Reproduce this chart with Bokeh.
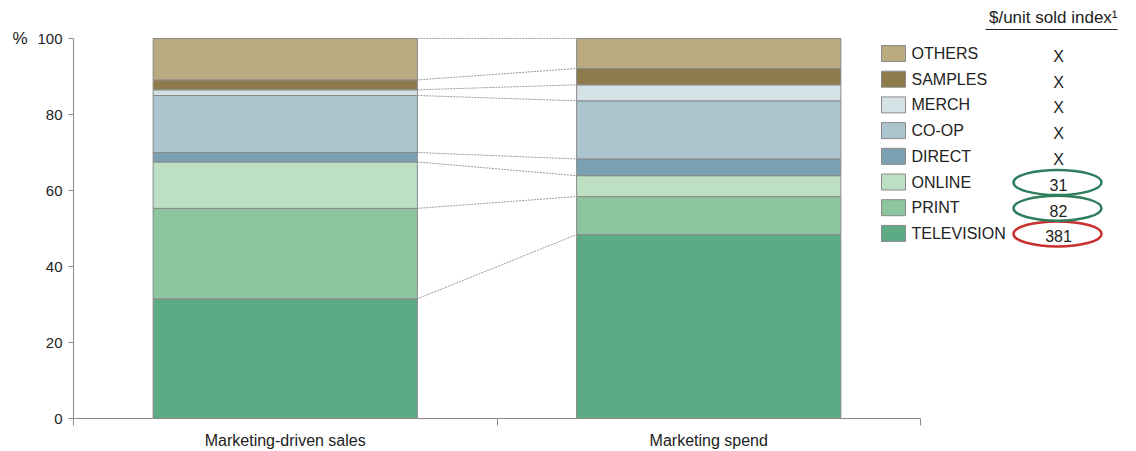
from bokeh.plotting import figure
from bokeh.models import Range1d, FixedTicker, ColumnDataSource, LinearAxis
from bokeh.core.properties import value
from bokeh.embed import file_html
from bokeh.resources import INLINE

# ---------------- data ----------------
bars = ["Marketing-driven sales", "Marketing spend"]
channels = ["TELEVISION", "PRINT", "ONLINE", "DIRECT", "CO-OP", "MERCH", "SAMPLES", "OTHERS"]
sales_share = [31.5, 23.8, 12.2, 2.5, 15.0, 1.5, 2.6, 10.9]
spend_share = [48.4, 10.0, 5.5, 4.4, 15.3, 4.2, 4.3, 7.9]
index_values = ["381", "82", "31", "X", "X", "X", "X", "X"]
circled = {"381": "#c8302e", "82": "#2e7d5c", "31": "#2e7d5c"}
colors = ["#5cab84", "#8cc59e", "#bde0c5", "#7aa0b1", "#abc4ce", "#d5e2e5", "#8e7b4b", "#b9aa80"]
y_ticks = [0, 20, 40, 60, 80, 100]
header = "$/unit sold index\u00b9"

FONT = "Liberation Sans"
GREY = "#8a8a8a"
TXT = "#222222"

# ---------------- layout geometry (pixels) ----------------
W, H = 1136, 451
LEFT, BOTTOM_PX = 73, 418          # frame left edge, y=0 baseline on the page
PX_PER_X = 423.5                   # pixels per category slot
PX_PER_Y = 3.8                     # pixels per percentage point
x_max = (W - LEFT) / PX_PER_X
y_max = BOTTOM_PX / PX_PER_Y


def lx(px):
    return (px - LEFT) / PX_PER_X


def ly(py):
    return (BOTTOM_PX - py) / PX_PER_Y


bar_w = 0.624
xs = [0.5, 1.5]
data = {"x": xs}
for c, a, b in zip(channels, sales_share, spend_share):
    data[c] = [a, b]
src = ColumnDataSource(data)

p = figure(width=W, height=H, x_range=Range1d(0, x_max), y_range=Range1d(0, y_max),
           output_backend="svg", toolbar_location=None,
           min_border_left=LEFT, min_border_right=0, min_border_top=0,
           min_border_bottom=H - BOTTOM_PX)
p.outline_line_color = None
p.grid.grid_line_color = None

p.vbar_stack(channels, x="x", width=bar_w, color=colors, line_color=GREY, line_width=1, source=src)

# connector lines between stacked boundaries
cum_a, cum_b = [], []
sa = sb = 0.0
for a, b in zip(sales_share, spend_share):
    sa += a
    sb += b
    cum_a.append(sa)
    cum_b.append(sb)
x0 = xs[0] + bar_w / 2
x1 = xs[1] - bar_w / 2
p.segment(x0=[x0] * len(cum_a), y0=cum_a, x1=[x1] * len(cum_b), y1=cum_b,
          line_color="#9a9a9a", line_width=1, line_dash="2 1")

# y axis
p.yaxis.bounds = (0, 100)
p.yaxis.ticker = FixedTicker(ticks=y_ticks)
p.yaxis.major_tick_in = 0
p.yaxis.major_tick_out = 5
p.yaxis.minor_tick_out = 0
p.yaxis.axis_line_color = GREY
p.yaxis.major_tick_line_color = GREY
p.yaxis.major_label_text_font = FONT
p.yaxis.major_label_text_font_size = "15px"
p.yaxis.major_label_text_color = TXT
p.yaxis.major_label_standoff = 6

# "%" unit marker as an extra left axis with a single labelled tick
pct = LinearAxis(ticker=FixedTicker(ticks=[100]), major_label_overrides={100: "%"},
                 axis_line_color=None, major_tick_line_color=None, minor_tick_line_color=None,
                 major_tick_out=0, minor_tick_out=0, major_tick_in=0, minor_tick_in=0,
                 major_label_text_font=FONT, major_label_text_font_size="17px",
                 major_label_text_color=TXT, major_label_standoff=7, bounds=(0, 100))
p.add_layout(pct, "left")

# x axis
p.xaxis.bounds = (0, 2)
p.xaxis.ticker = FixedTicker(ticks=xs, minor_ticks=[0, 1, 2])
p.xaxis.major_label_overrides = {xs[0]: bars[0], xs[1]: bars[1]}
p.xaxis.major_tick_in = 0
p.xaxis.major_tick_out = 0
p.xaxis.minor_tick_in = 0
p.xaxis.minor_tick_out = 7
p.xaxis.minor_tick_line_color = GREY
p.xaxis.axis_line_color = GREY
p.xaxis.major_label_text_font = FONT
p.xaxis.major_label_text_font_size = "16px"
p.xaxis.major_label_text_color = TXT
p.xaxis.major_label_standoff = 6

# ---------------- legend with index column ----------------
n = len(channels)
top_py = 53.0
step = 25.7
leg_py = [top_py + step * (n - 1 - i) for i in range(n)]  # TELEVISION at bottom
leg_y = [ly(v) for v in leg_py]
p.rect(x=[lx(893)] * n, y=leg_y, width=24, height=16, width_units="screen", height_units="screen",
       fill_color=colors, line_color=GREY, line_width=1)
p.text(x=[lx(911)] * n, y=leg_y, text=channels, text_font=value(FONT), text_font_size="16px",
       text_baseline="middle", text_align="left", text_color=TXT)
p.text(x=[lx(1058)] * n, y=[ly(v + 3) for v in leg_py], text=index_values, text_font=value(FONT),
       text_font_size="16px", text_baseline="middle", text_align="center", text_color=TXT)

ex, ey, ec = [], [], []
for v, yy in zip(index_values, leg_py):
    if v in circled:
        ex.append(lx(1057))
        ey.append(ly(yy + 0.5))
        ec.append(circled[v])
p.ellipse(x=ex, y=ey, width=88, height=25, width_units="screen", height_units="screen",
          fill_color=None, line_color=ec, line_width=2.5)

p.text(x=[lx(1117)], y=[ly(17)], text=[header], text_font=value(FONT), text_font_size="17px",
       text_baseline="middle", text_align="right", text_color=TXT)
p.segment(x0=[lx(985)], y0=[ly(29)], x1=[lx(1117)], y1=[ly(29)], line_color=TXT, line_width=1.2)

open("out.html", "w").write(file_html(p, INLINE))
